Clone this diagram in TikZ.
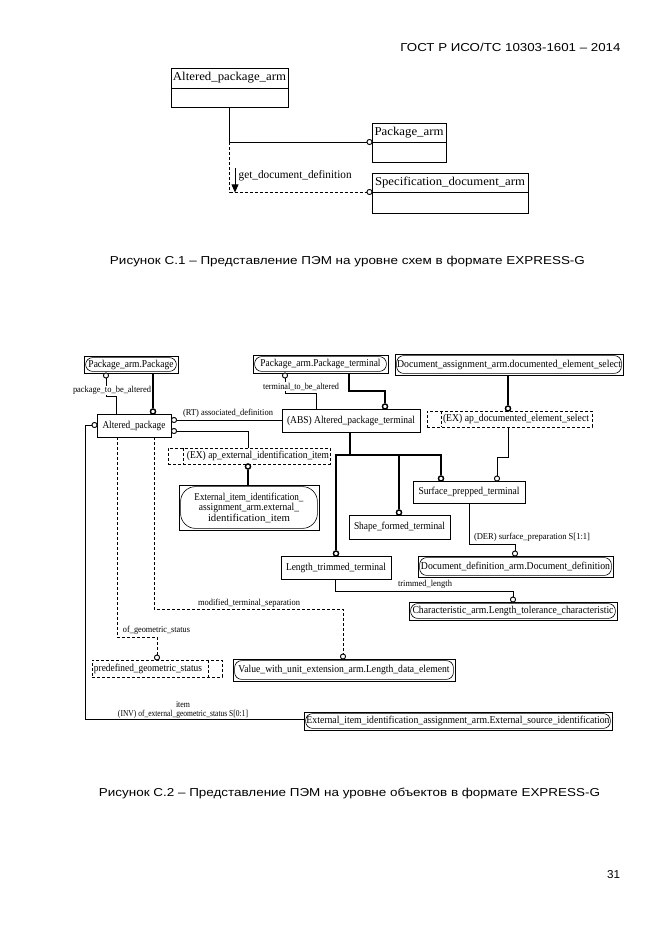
\documentclass[tikz,border=0pt]{standalone}
\usepackage{fontspec}
\usepackage{graphicx}
\setmainfont{Liberation Serif}
\newfontfamily\capfont{Liberation Sans}
\usetikzlibrary{arrows.meta}
\newcommand\fw[2]{\resizebox{#1pt}{\height}{#2}}
\newcommand\bx[7]{\node[#6, minimum width={#4pt-#2pt}, minimum height={#5pt-#3pt}] (#1) at ({(#2+#4)/2},{(#3+#5)/2}) {#7};}
\tikzset{
  ent/.style={draw, line width=0.8pt, inner sep=0pt, font=\fontsize{10.5}{12}\selectfont, align=center},
  topent/.style={ent, font=\fontsize{12}{14}\selectfont},
  refent/.style={ent, path picture={\draw[line width=0.6pt, rounded corners=#1] ([shift={(1.6pt,-1.6pt)}]path picture bounding box.north west) rectangle ([shift={(-1.6pt,1.6pt)}]path picture bounding box.south east);}},
  refent/.default=7pt,
  dbox/.style={draw, line width=0.8pt, dash pattern=on 3pt off 2pt, inner sep=0pt},
  dtext/.style={inner sep=0pt, font=\fontsize{10.5}{12}\selectfont},
  lbl/.style={inner sep=0.5pt, font=\fontsize{9}{10.5}\selectfont},
  rel/.style={line width=0.8pt},
  sub/.style={line width=1.8pt, line join=miter},
  dashrel/.style={line width=0.8pt, dash pattern=on 3pt off 2pt},
  circ/.style={draw, circle, fill=white, inner sep=0pt, minimum size=5pt, line width=0.8pt},
  tcirc/.style={circ, line width=1.3pt},
  capt/.style={inner sep=0pt, font=\capfont\fontsize{11.5}{13}\selectfont},
}
\begin{document}
\begin{tikzpicture}[x=1pt,y=-1pt]
\useasboundingbox (0,0) rectangle (661,935);
\fill[white] (0,0) rectangle (661,935);

% header and captions
\node[capt] (hdr) at (510.5,47) {\fw{220}{ГОСТ Р ИСО/ТС 10303-1601 – 2014}};
\node[capt] (cap1) at (347.5,262) {\fw{475}{Рисунок С.1 – Представление ПЭМ на уровне схем в формате EXPRESS-G}};
\node[capt] (cap2) at (349.5,793) {\fw{501}{Рисунок С.2 – Представление ПЭМ на уровне объектов в формате EXPRESS-G}};
\node[capt] (pgn) at (613.5,875) {\fw{13}{31}};

% ---------- Figure C.1 ----------
\bx{apah}{171}{68}{288}{88}{topent}{\fw{113}{Altered\_package\_arm}}
\bx{apab}{171}{88}{288}{107}{topent}{}
\bx{pkh}{372}{123}{446}{142}{topent}{\fw{69}{Package\_arm}}
\bx{pkb}{372}{142}{446}{162}{topent}{}
\bx{sph}{372}{173}{528}{192}{topent}{\fw{150}{Specification\_document\_arm}}
\bx{spb}{372}{192}{528}{213}{topent}{}
\node[circ] (ct1) at (369.5,142) {};
\node[circ] (ct2) at (369.5,192) {};
\coordinate (kt) at (229.5,142);
\draw[rel] (apab.south) -- (kt) -- (ct1);
\draw[dashrel] (kt) -- (kt |- ct2) -- (ct2);
\coordinate (ar1) at (235,168);
\draw[line width=0.8pt, -{Triangle[length=8pt,width=7pt]}] (ar1) -- (ar1 |- sph.south);
\node[inner sep=0pt, anchor=west, font=\fontsize{11.5}{13}\selectfont] (gdd) at (238.5,176) {\fw{113}{get\_document\_definition}};

% ---------- Figure C.2 ----------
\bx{pkg}{84}{356}{178}{373}{refent}{\fw{85}{Package\_arm.Package}}
\bx{pkt}{253}{355}{388}{373}{refent}{\fw{120}{Package\_arm.Package\_terminal}}
\bx{das}{395}{354}{623}{375}{refent}{\fw{224}{Document\_assignment\_arm.documented\_element\_select}}
\bx{ap}{97}{414}{171}{437}{ent}{\fw{63}{Altered\_package}}
\bx{apt}{282}{409}{420}{432}{ent}{\fw{128}{(ABS) Altered\_package\_terminal}}
\bx{exd}{427}{411}{592}{427}{dbox}{}
\node[dtext] (exdt) at (516,419) {\fw{146}{(EX) ap\_documented\_element\_select}};
\draw[dashrel] ([xshift=15pt]exd.north west) -- ([xshift=15pt]exd.south west);
\bx{exi}{168}{448}{330}{464}{dbox}{}
\node[dtext] (exit) at (258,456) {\fw{142}{(EX) ap\_external\_identification\_item}};
\draw[dashrel] ([xshift=16pt]exi.north west) -- ([xshift=16pt]exi.south west);
\bx{eii}{179}{485}{319}{530}{refent=15pt}{\fw{109}{External\_item\_identification\_}\\[-1.5pt]\fw{100}{assignment\_arm.external\_}\\[-1.5pt]\fw{82}{identification\_item}}
\bx{sft}{349}{515}{450}{539}{ent}{\fw{91}{Shape\_formed\_terminal}}
\bx{spt}{413}{481}{525}{503}{ent}{\fw{101}{Surface\_prepped\_terminal}}
\bx{ltt}{281}{556}{391}{579}{ent}{\fw{100}{Length\_trimmed\_terminal}}
\bx{ddd}{418}{556}{613}{577}{refent}{\fw{189}{Document\_definition\_arm.Document\_definition}}
\bx{ltc}{409}{602}{617}{620}{refent}{\fw{201}{Characteristic\_arm.Length\_tolerance\_characteristic}}
\bx{vld}{233}{659}{455}{681}{refent}{\fw{211}{Value\_with\_unit\_extension\_arm.Length\_data\_element}}
\bx{pgs}{92}{660}{222}{677}{dbox}{}
\node[dtext] (pgst) at (148,668.5) {\fw{108}{predefined\_geometric\_status}};
\draw[dashrel] ([xshift=-14pt]pgs.north east) -- ([xshift=-14pt]pgs.south east);
\bx{esi}{304}{712}{612}{730}{refent}{\fw{303}{External\_item\_identification\_assignment\_arm.External\_source\_identification}}

% circles
\node[circ] (ca) at (106,375.5) {};
\node[tcirc] (cb) at (153,411.5) {};
\node[circ] (cc) at (285,375.5) {};
\node[tcirc] (cd) at (385,406.5) {};
\node[tcirc] (ce) at (508,408.5) {};
\node[circ] (cf) at (174,420) {};
\node[circ] (cg) at (174,431) {};
\node[tcirc] (ch) at (248,466.5) {};
\node[tcirc] (ci1) at (336,553.5) {};
\node[tcirc] (ci2) at (399,512.5) {};
\node[tcirc] (ci3) at (441,478.5) {};
\node[circ] (cj) at (497,478.5) {};
\node[circ] (ck) at (515,553.5) {};
\node[circ] (cl) at (513,599.5) {};
\node[circ] (cm) at (343,656.5) {};
\node[circ] (cn) at (157,657.5) {};
\node[circ] (co) at (94.5,425) {};

% bend points
\coordinate (ka) at (116,396);
\coordinate (kc) at (316,393);
\coordinate (kd) at (349,391);
\coordinate (kg) at (248,431);
\coordinate (ki) at (350,455);
\coordinate (kj) at (508,457);
\coordinate (kk) at (469,544);
\coordinate (kl) at (335,591);
\coordinate (km) at (154,609);
\coordinate (kn) at (117,637);
\coordinate (ko) at (85,719);

% connectors
\draw[rel] (ap.north -| ka) -- (ka) -| (ca);
\draw[sub] (pkg.south -| cb) -- (cb);
\draw[rel] (apt.north -| kc) -- (kc) -| (cc);
\draw[sub] (pkt.south -| kd) -- (kd) -| (cd);
\draw[sub] (das.south -| ce) -- (ce);
\draw[rel] (cf) -- (apt.west |- cf);
\draw[rel] (cg) -- (kg) -- (kg |- exi.north);
\draw[sub] (ch) -- (eii.north -| ch);
\draw[sub] (apt.south -| ki) -- (ki);
\draw[sub] (ci1) |- (ki) -| (ci3);
\draw[sub] (ci2 |- ki) -- (ci2);
\draw[rel] (exd.south -| kj) -- (kj) -| (cj);
\draw[rel] (spt.south -| kk) -- (kk) -| (ck);
\draw[rel] (ltt.south -| kl) -- (kl) -| (cl);
\draw[dashrel] (ap.south -| km) -- (km) -| (cm);
\draw[dashrel] (ap.south -| kn) -- (kn) -| (cn);
\draw[rel] (co) -| (ko) -- (esi.west |- ko);

% redraw circles on top
\foreach \c in {ca,cc,cf,cg,cj,ck,cl,cm,cn,co,ct1,ct2}{\node[circ] at (\c) {};}
\foreach \c in {cb,cd,ce,ch,ci1,ci2,ci3}{\node[tcirc] at (\c) {};}

% labels
\node[lbl, fill=white] (la) at (112,390.5) {\fw{78}{package\_to\_be\_altered}};
\node[lbl, fill=white] (lc) at (301,386.5) {\fw{76}{terminal\_to\_be\_altered}};
\node[lbl] (lf) at (228,413) {\fw{90}{(RT) associated\_definition}};
\node[lbl] (lk) at (532,537) {\fw{116}{(DER) surface\_preparation S[1:1]}};
\node[lbl] (ll) at (425,584) {\fw{54}{trimmed\_length}};
\node[lbl] (lm) at (249,603) {\fw{102}{modified\_terminal\_separation}};
\node[lbl] (ln) at (156.5,630.5) {\fw{67}{of\_geometric\_status}};
\node[lbl, align=center] (lo) at (183,709.5) {\fw{14}{item}\\[-1.5pt]\fw{130}{(INV) of\_external\_geometric\_status S[0:1]}};
\end{tikzpicture}
\end{document}
